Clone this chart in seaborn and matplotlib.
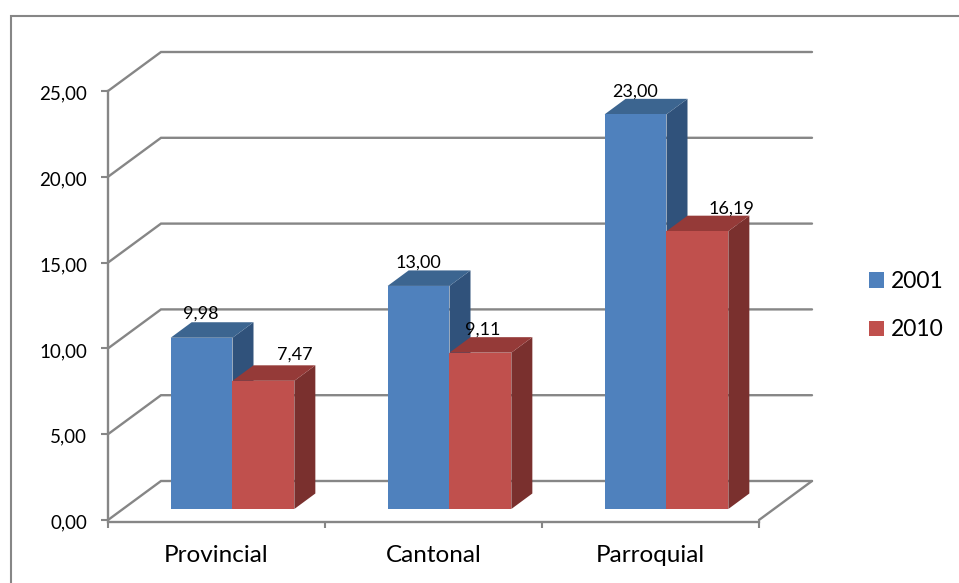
import matplotlib
matplotlib.use("Agg")
import matplotlib.pyplot as plt
from matplotlib.lines import Line2D
from matplotlib.patches import Polygon, Patch
from matplotlib.transforms import ScaledTranslation
import pandas as pd
import seaborn as sns

categories = ["Provincial", "Cantonal", "Parroquial"]
values_2001 = [9.98, 13.00, 23.00]
values_2010 = [7.47, 9.11, 16.19]
years = ["2001", "2010"]
y_ticks = [0, 5, 10, 15, 20, 25]
y_tick_labels = ["0,00", "5,00", "10,00", "15,00", "20,00", "25,00"]

sns.set_theme(style="white")
plt.rcParams["font.family"] = ["Lato", "DejaVu Sans"]

W, H = 959, 583
fig = plt.figure(figsize=(W / 100, H / 100), dpi=100, facecolor="white")
ax = fig.add_axes([108 / W, 1 - 520 / H, 651 / W, 429 / H], facecolor="none")

GRAY = "#868686"
FRONT = {"2001": "#4F81BD", "2010": "#C0504D"}
SIDE = {"2001": "#30527B", "2010": "#7A302E"}
TOP = {"2001": "#3C6590", "2010": "#953A38"}

df = pd.DataFrame({
    "cat": categories * 2,
    "year": [years[0]] * 3 + [years[1]] * 3,
    "val": values_2001 + values_2010,
})

sns.barplot(data=df, x="cat", y="val", hue="year", order=categories, hue_order=years,
            palette=FRONT, saturation=1, width=0.57, gap=0, legend=False, ax=ax, zorder=5,
            linewidth=0)

ax.set_xlim(-0.5, 2.5)
ax.set_ylim(0, 25)
ax.set_xlabel("")
ax.set_ylabel("")

# pixel to data conversions
px = 3 / 651
py = 25 / 429
wall_dx, wall_dy = 53 * px, 39 * py       # depth of the chart box
bar_sx, bar_sy = 16 * px, 11 * py         # where bars stand on the floor
bar_dx, bar_dy = 21 * px, 15.5 * py       # depth of a bar

# walls and floor
for v in y_ticks:
    ax.plot([-0.5, -0.5 + wall_dx, 2.5 + wall_dx], [v, v + wall_dy, v + wall_dy],
            color=GRAY, lw=1.7, clip_on=False, zorder=1, solid_joinstyle="miter")
ax.plot([2.5, 2.5 + wall_dx], [0, wall_dy], color=GRAY, lw=1.7, clip_on=False, zorder=1)

# bars in 3D
label_offsets = {
    ("2001", 0): (-1, 24), ("2010", 0): (31, 26),
    ("2001", 1): (0, 23), ("2010", 1): (2, 23),
    ("2001", 2): (0, 23), ("2010", 2): (34, 23),
}
patches = [p for p in ax.patches if p.get_height() > 0]
patches = sorted(patches, key=lambda p: p.get_x())
order_keys = []
for i in range(3):
    order_keys += [("2001", i), ("2010", i)]
for n, (p, key) in enumerate(zip(patches, order_keys)):
    yr, i = key
    v = values_2001[i] if yr == "2001" else values_2010[i]
    p.set_x(p.get_x() + bar_sx)
    p.set_y(bar_sy)
    p.set_clip_on(False)
    x0, x1 = p.get_x(), p.get_x() + p.get_width()
    y0, y1 = bar_sy, bar_sy + v
    z = 3 if yr == "2001" else 4
    ax.add_patch(Polygon([(x1, y0), (x1 + bar_dx, y0 + bar_dy), (x1 + bar_dx, y1 + bar_dy), (x1, y1)],
                         closed=True, fc=SIDE[yr], ec="none", zorder=z, clip_on=False))
    ax.add_patch(Polygon([(x0, y1), (x0 + bar_dx, y1 + bar_dy), (x1 + bar_dx, y1 + bar_dy), (x1, y1)],
                         closed=True, fc=TOP[yr], ec="none", zorder=z, clip_on=False))
    p.set_zorder(5 if yr == "2010" else 4.5)
    ox, oy = label_offsets[key]
    ax.annotate(f"{v:.2f}".replace(".", ","), xy=((x0 + x1) / 2, y1), xytext=(ox * 0.72, oy * 0.72),
                textcoords="offset points", ha="center", va="center", fontsize=13,
                color="black", zorder=8, annotation_clip=False)

# axes
for s in ["top", "right"]:
    ax.spines[s].set_visible(False)
ax.spines["left"].set_color(GRAY)
ax.spines["left"].set_linewidth(1.7)
ax.spines["left"].set_zorder(2)
ax.spines["left"].set_bounds(0, 25)
ax.spines["bottom"].set_color(GRAY)
ax.spines["bottom"].set_linewidth(1.7)
ax.spines["bottom"].set_position(("outward", 1.5))
ax.set_yticks(y_ticks, y_tick_labels)
ax.set_xticks(range(3), categories)
ax.set_xticks([-0.5, 0.5, 1.5, 2.5], minor=True)
ax.tick_params(axis="y", which="major", left=True, length=5, width=1.5, color=GRAY, pad=10,
               labelsize=13.5, labelcolor="black")
ax.tick_params(axis="x", which="major", bottom=False, length=0, pad=16.5, labelsize=17.5, labelcolor="black")
ax.tick_params(axis="x", which="minor", bottom=True, length=4, width=1.5, color=GRAY)
for lab in ax.get_yticklabels():
    lab.set_transform(lab.get_transform() + ScaledTranslation(0, -1.5 / 100, fig.dpi_scale_trans))

# legend
handles = [Patch(fc=FRONT[y], ec="none", label=y) for y in years]
ax.legend(handles=handles, loc="upper left", bbox_to_anchor=(862 / W, 1 - 264 / H),
          bbox_transform=fig.transFigure, frameon=False, fontsize=16.5,
          handlelength=0.66, handleheight=0.66, handletextpad=0.32, labelspacing=1.2,
          borderpad=0.3, borderaxespad=0, labelcolor="black")

# outer chart frame
fig.add_artist(Line2D([10.5 / W, 10.5 / W, 1], [0, 1 - 16 / H, 1 - 16 / H], color=GRAY, lw=1.5,
                      transform=fig.transFigure, solid_joinstyle="miter"))

fig.savefig("out.png", dpi=100)
